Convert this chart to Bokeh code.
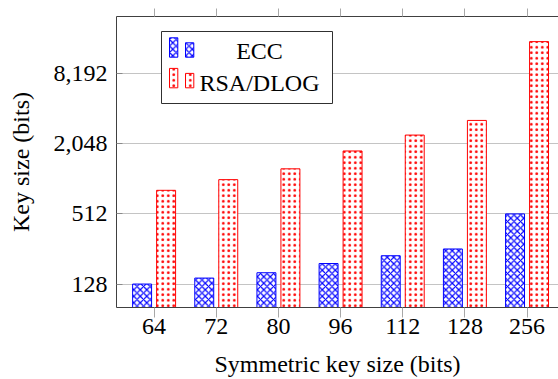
from bokeh.plotting import figure
from bokeh.models import (ColumnDataSource, FixedTicker, LinearAxis, Range1d,
                          BoxAnnotation, Label, NumeralTickFormatter)
from bokeh.transform import dodge
from bokeh.embed import file_html
from bokeh.resources import INLINE

# ---- data ----
sym_bits = ["64", "72", "80", "96", "112", "128", "256"]
ecc_bits = [128, 144, 160, 192, 224, 256, 512]
rsa_bits = [816, 1008, 1248, 1776, 2432, 3248, 15424]
y_ticks = [128, 512, 2048, 8192]
series_names = ["ECC", "RSA/DLOG"]

FONT = "Liberation Serif"
FS = "24px"
FRAME = "#404040"
TICK = "#a8a8a8"
GRID = "#c4c4c4"
BLUE = "#0000ff"
RED = "#ff0000"

idx = list(range(len(sym_bits)))
src = ColumnDataSource(dict(x=idx, ecc=ecc_bits, rsa=rsa_bits))

p = figure(width=558, height=379, output_backend="svg", toolbar_location=None,
           x_range=Range1d(-0.605, 6.506), y_range=Range1d(80.5, 25340),
           y_axis_type="log",
           min_border_left=116, min_border_right=0, min_border_top=16,
           min_border_bottom=0)
p.outline_line_color = None
p.background_fill_color = "white"
p.border_fill_color = "white"

ecc_style = dict(fill_color="white", line_color=BLUE, line_width=1,
                 hatch_pattern="diagonal_cross", hatch_color=BLUE,
                 hatch_scale=6.5, hatch_weight=1.2)
rsa_style = dict(fill_color="white", line_color=RED, line_width=1,
                 hatch_pattern="dot", hatch_color=RED,
                 hatch_scale=5.5, hatch_weight=2)

# bars
p.vbar(x=dodge("x", -0.193, range=p.x_range), top="ecc", bottom=1, width=0.305,
       source=src, **ecc_style)
p.vbar(x=dodge("x", 0.193, range=p.x_range), top="rsa", bottom=1, width=0.305,
       source=src, **rsa_style)

# grid
p.xgrid.visible = False
p.ygrid.grid_line_color = GRID
p.ygrid.grid_line_width = 1

# y axis
ya = p.yaxis[0]
ya.ticker = FixedTicker(ticks=y_ticks, minor_ticks=[])
ya.formatter = NumeralTickFormatter(format="0,0")
ya.axis_line_color = FRAME
ya.major_tick_in = 6
ya.major_tick_out = 0
ya.major_tick_line_color = "#8a8a8a"
ya.minor_tick_line_color = None
ya.major_label_standoff = 9
ya.major_label_text_font = FONT
ya.major_label_text_font_size = FS
ya.major_label_text_color = "black"
ya.axis_label = "Key size (bits)"
ya.axis_label_text_font = FONT
ya.axis_label_text_font_size = FS
ya.axis_label_text_font_style = "normal"
ya.axis_label_text_color = "black"
ya.axis_label_standoff = 17

# x axis
xa = p.xaxis[0]
xa.ticker = FixedTicker(ticks=idx, minor_ticks=[])
xa.major_label_overrides = {i: s for i, s in enumerate(sym_bits)}
xa.axis_line_color = FRAME
xa.major_tick_in = 0
xa.major_tick_out = 10
xa.major_tick_line_color = TICK
xa.minor_tick_line_color = None
xa.major_label_standoff = 1
xa.major_label_text_font = FONT
xa.major_label_text_font_size = FS
xa.major_label_text_color = "black"
xa.axis_label = "Symmetric key size (bits)"
xa.axis_label_text_font = FONT
xa.axis_label_text_font_size = FS
xa.axis_label_text_font_style = "normal"
xa.axis_label_text_color = "black"
xa.axis_label_standoff = 14

top_ax = LinearAxis(ticker=FixedTicker(ticks=idx, minor_ticks=[]),
                    axis_line_color=FRAME, major_tick_in=0, major_tick_out=8,
                    major_tick_line_color=TICK, minor_tick_line_color=None,
                    major_label_overrides={i: "" for i in idx},
                    major_label_text_font_size="0px", major_label_standoff=0)
p.add_layout(top_ax, "above")

# ---- legend (drawn by hand: two small bars per entry) ----
CU = dict(left_units="canvas", right_units="canvas",
          top_units="canvas", bottom_units="canvas")
p.add_layout(BoxAnnotation(left=161, right=332, top=31, bottom=103,
                           fill_color="white", fill_alpha=1,
                           line_color="#303030", line_alpha=1, line_width=1,
                           line_dash="solid", **CU))
icon_styles = [ecc_style, rsa_style]
for k, (name, st) in enumerate(zip(series_names, icon_styles)):
    base = 56.7 + 30.6 * k
    for (l, r, t) in [(169, 177.3, base - 19.4), (185, 193.3, base - 14.4)]:
        p.add_layout(BoxAnnotation(left=l, right=r, top=t, bottom=base,
                                   fill_alpha=1, line_alpha=1, line_dash="solid",
                                   **st, **CU))
    p.add_layout(Label(x=259, y=50 + 32 * k, x_units="canvas", y_units="canvas",
                       text=name, text_align="center", text_baseline="middle",
                       text_font=FONT, text_font_size=FS, text_color="black"))

open("out.html", "w").write(file_html(p, INLINE))
